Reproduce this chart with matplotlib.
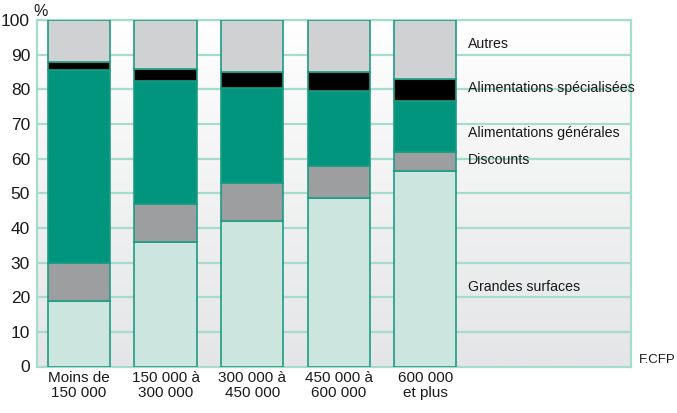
import numpy as np
import matplotlib.pyplot as plt
from matplotlib.colors import LinearSegmentedColormap

categories = ["Moins de\n150 000", "150 000 à\n300 000", "300 000 à\n450 000",
              "450 000 à\n600 000", "600 000\net plus"]
grandes_surfaces = [19, 36, 42, 48.5, 56.5]
discounts = [11, 11, 11, 9.5, 5.5]
alim_generales = [55.5, 35.5, 27.5, 21.5, 14.5]
alim_specialisees = [2.5, 3.5, 4.5, 5.5, 6.5]
autres = [12, 14, 15, 15, 17]

series = [
    ("Grandes surfaces", grandes_surfaces, "#cce6df", 23),
    ("Discounts", discounts, "#9d9e9f", 59.5),
    ("Alimentations générales", alim_generales, "#00957c", 67.5),
    ("Alimentations spécialisées", alim_specialisees, "#000000", 80.5),
    ("Autres", autres, "#d0d1d3", 93),
]

plt.rcParams["font.family"] = ["Liberation Sans", "DejaVu Sans"]

fig = plt.figure(figsize=(6.77, 4.13), dpi=100)
ax = fig.add_axes([37 / 677, 46.5 / 413, 594 / 677, 346.5 / 413])

x = np.arange(len(categories))
xmin, xmax = -0.486, 6.377
ax.set_xlim(xmin, xmax)
ax.set_ylim(0, 100)

# fond en dégradé
grad = np.linspace(0, 1, 256).reshape(-1, 1)
bg = LinearSegmentedColormap.from_list("bg", ["#ffffff", "#e4e5e6"])
ax.imshow(grad, extent=[xmin, xmax, 0, 100], aspect="auto", origin="upper",
          cmap=bg, zorder=0)

grid_c = "#a6dccd"
for yv in range(10, 101, 10):
    ax.axhline(yv, color=grid_c, lw=1.6, zorder=1)

bottom = np.zeros(len(categories))
for name, vals, col, ylab in series:
    ax.bar(x, vals, bottom=bottom, width=0.72, color=col,
           edgecolor="#1d9c84", linewidth=1.2, zorder=3)
    bottom += np.array(vals)
    ax.text(4.49, ylab, name, ha="left", va="center", fontsize=10.2,
            color="#1a1a1a", zorder=4)

for s in ["left", "right", "bottom", "top"]:
    ax.spines[s].set_color(grid_c)
    ax.spines[s].set_linewidth(1.6)

ax.set_yticks(range(0, 101, 10))
ax.tick_params(axis="y", length=0, labelsize=12.5, pad=5, labelcolor="#1a1a1a")
ax.set_xticks(x)
ax.set_xticklabels(categories, fontsize=11, linespacing=1.15)
ax.tick_params(axis="x", length=0, pad=3, labelcolor="#1a1a1a")

fig.text(41 / 677, 1 - 11 / 413, "%", fontsize=11.5, ha="center", va="center",
         color="#1a1a1a")
fig.text(639 / 677, 1 - 360 / 413, "F.CFP", fontsize=9.5, ha="left",
         va="center", color="#1a1a1a")

plt.savefig("out.png", dpi=100)
